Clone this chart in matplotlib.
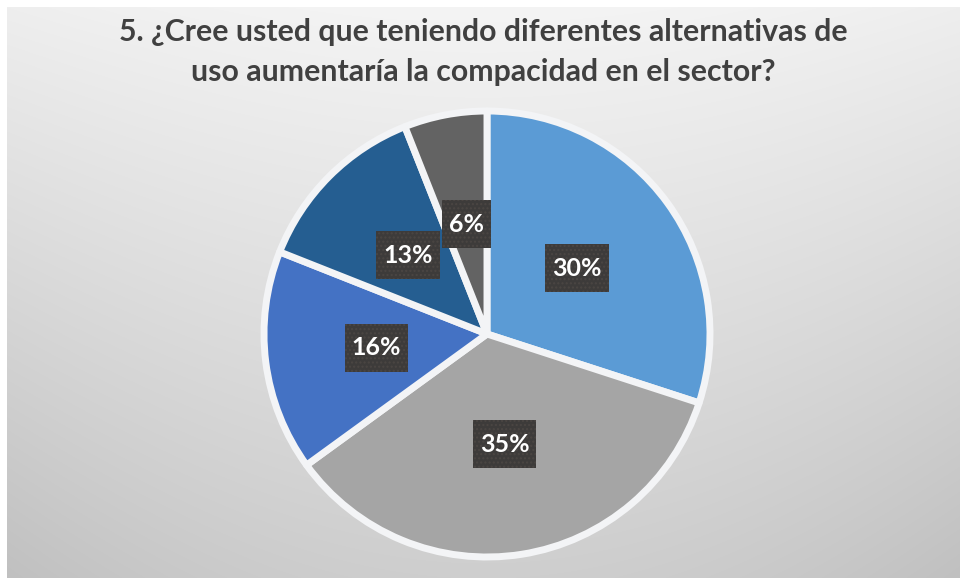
import numpy as np
import matplotlib
matplotlib.use("Agg")
import matplotlib.pyplot as plt
from matplotlib.path import Path

# Survey answers, question 5 (percent of respondents)
shares = [30, 35, 16, 13, 6]
slice_colors = ["#5B9BD5", "#A5A5A5", "#4472C4", "#255E91", "#636363"]
title = ("5. ¿Cree usted que teniendo diferentes alternativas de\n"
         "uso aumentaría la compacidad en el sector?")

W, H = 960, 579


def label_box(x0, y0, width, height, mutation_size):
    # plain rectangle, more padding top/bottom than left/right
    px, py = 0.28 * mutation_size, 0.5 * mutation_size
    x0, x1 = x0 - px, x0 + width + px
    y0, y1 = y0 - py, y0 + height + py
    return Path([(x0, y0), (x1, y0), (x1, y1), (x0, y1), (x0, y0)], closed=True)


fig = plt.figure(figsize=(W / 100, H / 100), dpi=100)
fig.patch.set_facecolor("white")

# Chart area: soft grey gradient, light at the top centre
bg = fig.add_axes([7 / W, 1 / H, 953 / W, 571 / H])
yy, xx = np.mgrid[0:571, 0:953]
dx = ((xx - 476) / 476.0) ** 2
fy = yy / 571.0
shade = 244 - 38 * fy - 6 * dx - 8 * dx * fy
bg.imshow(np.dstack([shade] * 3) / 255.0, aspect="auto", interpolation="bilinear")
bg.set_axis_off()

# Pie, centre (487, 334) px, radius ~223 px
cx, cy, r = 487, 334, 223
ax = fig.add_axes([(cx - r) / W, (H - cy - r) / H, 2 * r / W, 2 * r / H])
wedges, _, pct = ax.pie(
    shares, colors=slice_colors, startangle=90, counterclock=False,
    autopct="%.0f%%", pctdistance=0.5,
    wedgeprops=dict(edgecolor="#F3F4F6", linewidth=5, joinstyle="round"),
)
ax.set_xlim(-1, 1)
ax.set_ylim(-1, 1)
ax.set_axis_off()

for t in pct:
    t.set_fontfamily("Lato")
    t.set_fontweight("bold")
    t.set_fontsize(18)
    t.set_color("white")
    t.set_bbox(dict(boxstyle=label_box, facecolor="#3D3B3A",
                    edgecolor="#4B4643", linewidth=0, hatch="...."))

fig.text(483 / W, 1 - 52 / H, title, ha="center", va="center",
         fontfamily="Lato", fontweight="bold", fontsize=21.8,
         color="#404040", linespacing=1.5)

fig.savefig("out.png", dpi=100)
